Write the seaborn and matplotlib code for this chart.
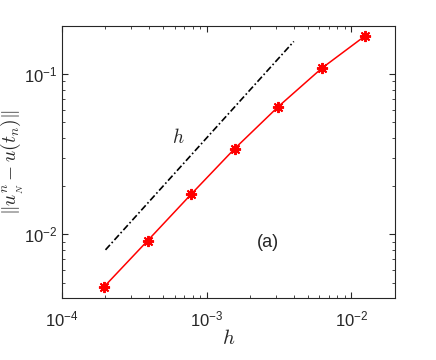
import numpy as np
import pandas as pd
import matplotlib
matplotlib.use('Agg')
import matplotlib.pyplot as plt
import seaborn as sns

# data
h = [1.953e-4, 3.906e-4, 7.8125e-4, 1.5625e-3, 3.125e-3, 6.25e-3, 1.25e-2]
err = [0.0047, 0.00912, 0.0178, 0.0343, 0.0627, 0.109, 0.174]
ref_h = [2.0e-4, 4.0e-3]
ref_err = [0.008, 0.16]

sns.set_style("ticks")
plt.rcParams['font.family'] = ['Liberation Sans', 'DejaVu Sans']
plt.rcParams['mathtext.fontset'] = 'cm'

axcol = '#262626'
fig = plt.figure(figsize=(4.36, 3.6), dpi=100)
ax = fig.add_axes([0.142, 0.172, 0.764, 0.756])

df = pd.DataFrame({'h': h, 'err': err})
sns.lineplot(data=df, x='h', y='err', ax=ax, color='red', linewidth=1.1,
             marker=(8, 2, 0), markersize=8, markeredgewidth=1.4,
             markeredgecolor='red')
ref = pd.DataFrame({'h': ref_h, 'err': ref_err})
sns.lineplot(data=ref, x='h', y='err', ax=ax, color='black', linewidth=1.2,
             linestyle=(0, (4, 1.5, 1, 1.5)))

ax.set_xscale('log')
ax.set_yscale('log')
ax.set_xlim(1e-4, 0.02)
ax.set_ylim(0.004, 0.2)

ax.text(6.35e-4, 0.04, '$h$', fontsize=14, ha='center', va='center')
ax.text(2.67e-3, 0.00895, '(a)', fontsize=13, ha='center', va='center')

ax.set_xlabel('$h$', fontsize=15, color=axcol, labelpad=0)
ax.set_ylabel(r'$\|u^n_{_N}-u(t_n)\|$', fontsize=14, color=axcol)
ax.yaxis.set_label_coords(-0.108, 0.5)

for s in ax.spines.values():
    s.set_color(axcol)
    s.set_linewidth(0.8)
ax.tick_params(which='both', direction='in', top=True, right=True,
               colors=axcol, labelsize=12)
ax.tick_params(which='major', length=4)
ax.tick_params(which='minor', length=2.5)
ax.tick_params(axis='x', pad=8)

fig.savefig('out.png', dpi=100)
